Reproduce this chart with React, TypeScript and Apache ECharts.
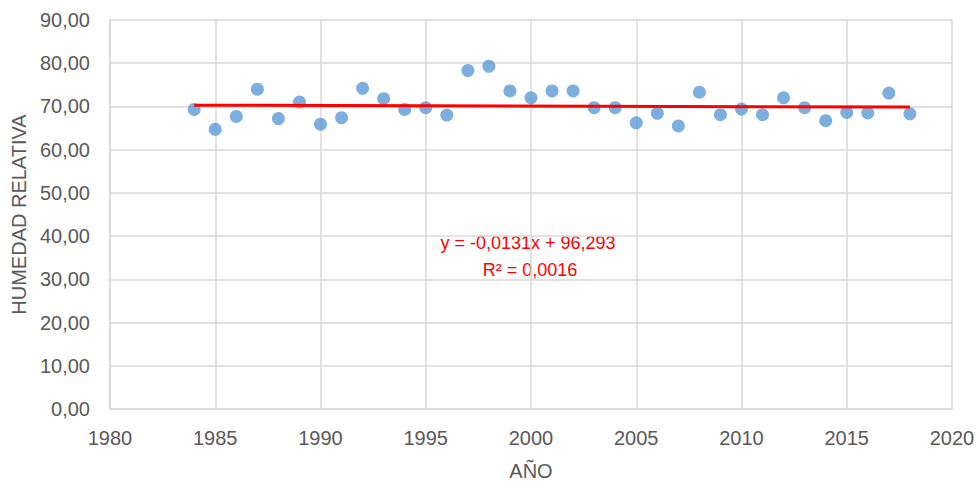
import React, { useEffect, useRef } from "react";
import * as echarts from "echarts";

const years = [
  1984, 1985, 1986, 1987, 1988, 1989, 1990, 1991, 1992, 1993, 1994, 1995,
  1996, 1997, 1998, 1999, 2000, 2001, 2002, 2003, 2004, 2005, 2006, 2007,
  2008, 2009, 2010, 2011, 2012, 2013, 2014, 2015, 2016, 2017, 2018,
];
const humidity = [
  69.3, 64.7, 67.7, 74.0, 67.2, 71.0, 65.9, 67.4, 74.2, 71.8, 69.3, 69.7,
  68.0, 78.3, 79.3, 73.6, 72.0, 73.6, 73.6, 69.7, 69.7, 66.2, 68.4, 65.5,
  73.3, 68.1, 69.4, 68.1, 72.0, 69.7, 66.7, 68.6, 68.5, 73.1, 68.3,
];
const trendSlope = -0.0131;
const trendIntercept = 96.293;
const equationText = "y = -0,0131x + 96,293";
const r2Text = "R² = 0,0016";
const xTitle = "AÑO";
const yTitle = "HUMEDAD RELATIVA";

const FONT = "'Liberation Sans', Arial, sans-serif";
const LABEL = "#595959";
const GRID = "#d9d9d9";

export default function App() {
  const ref = useRef<HTMLDivElement>(null);
  useEffect(() => {
    document.body.style.margin = "0";
    const chart = echarts.init(ref.current!, null, { renderer: "svg" });
    const points = years.map((y, i) => [y, humidity[i]]);
    const x0 = years[0];
    const x1 = years[years.length - 1];
    const trend = [
      [x0, trendSlope * x0 + trendIntercept],
      [x1, trendSlope * x1 + trendIntercept],
    ];
    chart.setOption({
      animation: false,
      grid: { left: 110, right: 26, top: 20, bottom: 72 },
      textStyle: { fontFamily: FONT },
      xAxis: {
        type: "value",
        min: 1980,
        max: 2020,
        interval: 5,
        name: xTitle,
        nameLocation: "middle",
        nameGap: 52,
        nameTextStyle: { color: LABEL, fontSize: 20, fontFamily: FONT },
        axisLine: { show: true, lineStyle: { color: GRID, width: 1.5 } },
        axisTick: { show: false },
        axisLabel: {
          color: LABEL,
          fontSize: 20,
          margin: 19,
          fontFamily: FONT,
          formatter: (v: number) => String(v),
        },
        splitLine: { show: true, lineStyle: { color: GRID, width: 1.5 } },
      },
      yAxis: {
        type: "value",
        min: 0,
        max: 90,
        interval: 10,
        name: yTitle,
        nameLocation: "middle",
        nameRotate: 90,
        nameGap: 78,
        nameTextStyle: { color: LABEL, fontSize: 20, fontFamily: FONT },
        axisLine: { show: true, lineStyle: { color: GRID, width: 1.5 } },
        axisTick: { show: false },
        axisLabel: {
          color: LABEL,
          fontSize: 20,
          margin: 20,
          fontFamily: FONT,
          formatter: (v: number) => v.toFixed(2).replace(".", ","),
        },
        splitLine: { show: true, lineStyle: { color: GRID, width: 1.5 } },
      },
      series: [
        {
          type: "scatter",
          data: points,
          symbolSize: 13,
          itemStyle: { color: "#5b9bd5" },
          z: 2,
        },
        {
          type: "line",
          data: trend,
          showSymbol: false,
          symbol: "none",
          lineStyle: { color: "#ff0000", width: 3 },
          z: 3,
        },
      ],
      graphic: [
        {
          type: "text",
          x: 528,
          y: 243,
          style: {
            text: equationText,
            fill: "#ff0000",
            fontSize: 18,
            fontFamily: FONT,
            align: "center",
            verticalAlign: "middle",
          },
        },
        {
          type: "text",
          x: 530,
          y: 270,
          style: {
            text: r2Text,
            fill: "#ff0000",
            fontSize: 18,
            fontFamily: FONT,
            align: "center",
            verticalAlign: "middle",
          },
        },
      ],
    });
    return () => chart.dispose();
  }, []);
  return <div ref={ref} style={{ width: 978, height: 486 }} />;
}
